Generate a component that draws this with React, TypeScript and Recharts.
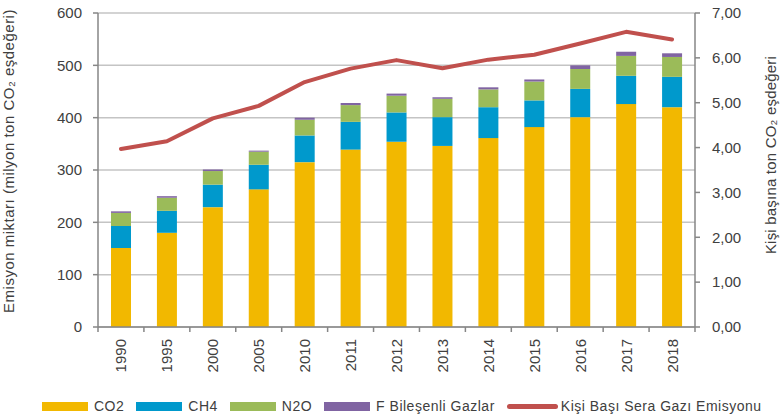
import { ComposedChart, Bar, Line, XAxis, YAxis, CartesianGrid, Legend } from 'recharts'

const years = ['1990', '1995', '2000', '2005', '2010', '2011', '2012', '2013', '2014', '2015', '2016', '2017', '2018']
const co2 = [151, 180, 229, 263, 315, 339, 354, 346, 361, 382, 401, 426, 420]
const ch4 = [42, 42, 43, 47, 51, 53, 56, 55, 59, 51, 54, 54, 58]
const n2o = [25, 25, 26, 25, 30, 32, 32, 35, 34, 36, 38, 38, 38]
const fGas = [3, 3, 3, 2, 4, 4, 4, 3, 4, 4, 7, 8, 7]
const perCapita = [3.97, 4.14, 4.65, 4.93, 5.46, 5.76, 5.95, 5.77, 5.96, 6.07, 6.32, 6.58, 6.41]

const leftTicks = [0, 100, 200, 300, 400, 500, 600]
const rightTicks = [0, 1, 2, 3, 4, 5, 6, 7]

const seriesNames = ['CO2', 'CH4', 'N2O', 'F Bileşenli Gazlar', 'Kişi Başı Sera Gazı Emisyonu']
const seriesColors = ['#F2B800', '#0099CC', '#9BBB59', '#8064A2', '#C0504D']

const leftTitle = 'Emisyon miktarı (milyon ton CO₂ eşdeğeri)'
const rightTitle = 'Kişi başına ton CO₂ eşdeğeri'

const data = years.map((year, i) => ({
  year,
  co2: co2[i],
  ch4: ch4[i],
  n2o: n2o[i],
  fGas: fGas[i],
  perCapita: perCapita[i],
}))

const WIDTH = 783
const HEIGHT = 419
const LEFT_AXIS_W = 98
const RIGHT_AXIS_W = 88
const BAND = (WIDTH - LEFT_AXIS_W - RIGHT_AXIS_W) / years.length
const AXIS_COLOR = '#868686'
const TEXT_COLOR = '#404040'
const FONT = "'Liberation Sans', Arial, sans-serif"

// tick marks sit between the categories, like in Excel
const YearTick = (props: any) => {
  const { x, y, payload, index } = props
  return (
    <g>
      <line x1={x - BAND / 2} x2={x - BAND / 2} y1={y} y2={y + 5} stroke={AXIS_COLOR} strokeWidth={1.5} />
      {index === years.length - 1 && (
        <line x1={x + BAND / 2} x2={x + BAND / 2} y1={y} y2={y + 5} stroke={AXIS_COLOR} strokeWidth={1.5} />
      )}
      <text
        transform={`translate(${x},${y + 12}) rotate(-90)`}
        textAnchor="end"
        dominantBaseline="central"
        fill={TEXT_COLOR}
        fontSize={15}
        fontFamily={FONT}
      >
        {payload.value}
      </text>
    </g>
  )
}

const LegendContent = () => (
  <div
    style={{
      display: 'flex',
      alignItems: 'center',
      height: 26,
      fontFamily: FONT,
      fontSize: 14,
      letterSpacing: 0.5,
      color: TEXT_COLOR,
      whiteSpace: 'nowrap',
    }}
  >
    {seriesNames.map((name, i) => {
      const isLine = i === seriesNames.length - 1
      return (
        <div key={name} style={{ display: 'flex', alignItems: 'center', marginRight: 12 }}>
          <span
            style={{
              display: 'inline-block',
              width: isLine ? 51 : 46,
              height: isLine ? 5 : 9,
              borderRadius: isLine ? 3 : 0,
              background: seriesColors[i],
              marginRight: isLine ? 3 : 6,
            }}
          />
          <span>{name}</span>
        </div>
      )
    })}
  </div>
)

export default function App() {
  return (
    <div style={{ position: 'absolute', left: 0, top: 0, width: WIDTH, height: HEIGHT, background: '#fff' }}>
      <ComposedChart width={WIDTH} height={HEIGHT} data={data} margin={{ top: 13, right: 0, left: 0, bottom: 0 }}>
        <CartesianGrid yAxisId="left" vertical={false} stroke="#C4C4C4" strokeWidth={1.5} />
        <XAxis
          dataKey="year"
          height={66}
          axisLine={{ stroke: AXIS_COLOR, strokeWidth: 1.5 }}
          tickLine={false}
          tickSize={0}
          tickMargin={0}
          interval={0}
          tick={<YearTick />}
        />
        <YAxis
          yAxisId="left"
          width={LEFT_AXIS_W}
          domain={[0, 600]}
          ticks={leftTicks}
          interval={0}
          axisLine={{ stroke: AXIS_COLOR, strokeWidth: 1.5 }}
          tickLine={{ stroke: AXIS_COLOR, strokeWidth: 1.5 }}
          tickSize={5}
          tickMargin={11}
          tick={{ fill: TEXT_COLOR, fontSize: 15, fontFamily: FONT }}
          label={{
            value: leftTitle,
            angle: -90,
            position: 'insideLeft',
            offset: 9,
            dy: -9,
            style: { fill: TEXT_COLOR, fontSize: 15, fontFamily: FONT, textAnchor: 'middle', letterSpacing: 0.5 },
          }}
        />
        <YAxis
          yAxisId="right"
          orientation="right"
          width={RIGHT_AXIS_W}
          domain={[0, 7]}
          ticks={rightTicks}
          interval={0}
          tickFormatter={(v: number) => v.toFixed(2).replace('.', ',')}
          axisLine={{ stroke: AXIS_COLOR, strokeWidth: 1.5 }}
          tickLine={{ stroke: AXIS_COLOR, strokeWidth: 1.5 }}
          tickSize={5}
          tickMargin={12}
          tick={{ fill: TEXT_COLOR, fontSize: 15, fontFamily: FONT }}
          label={{
            value: rightTitle,
            angle: -90,
            position: 'insideRight',
            offset: 12,
            dy: -15,
            style: { fill: TEXT_COLOR, fontSize: 15, fontFamily: FONT, textAnchor: 'middle', letterSpacing: 0.2 },
          }}
        />
        <Legend verticalAlign="bottom" align="left" content={<LegendContent />} wrapperStyle={{ left: 42, width: 740 }} />
        <Bar yAxisId="left" dataKey="co2" stackId="gas" name={seriesNames[0]} fill={seriesColors[0]} barSize={20} isAnimationActive={false} />
        <Bar yAxisId="left" dataKey="ch4" stackId="gas" name={seriesNames[1]} fill={seriesColors[1]} barSize={20} isAnimationActive={false} />
        <Bar yAxisId="left" dataKey="n2o" stackId="gas" name={seriesNames[2]} fill={seriesColors[2]} barSize={20} isAnimationActive={false} />
        <Bar yAxisId="left" dataKey="fGas" stackId="gas" name={seriesNames[3]} fill={seriesColors[3]} barSize={20} isAnimationActive={false} />
        <Line
          yAxisId="right"
          type="linear"
          dataKey="perCapita"
          name={seriesNames[4]}
          stroke={seriesColors[4]}
          strokeWidth={4}
          strokeLinejoin="round"
          strokeLinecap="round"
          dot={false}
          activeDot={false}
          isAnimationActive={false}
        />
      </ComposedChart>
    </div>
  )
}
